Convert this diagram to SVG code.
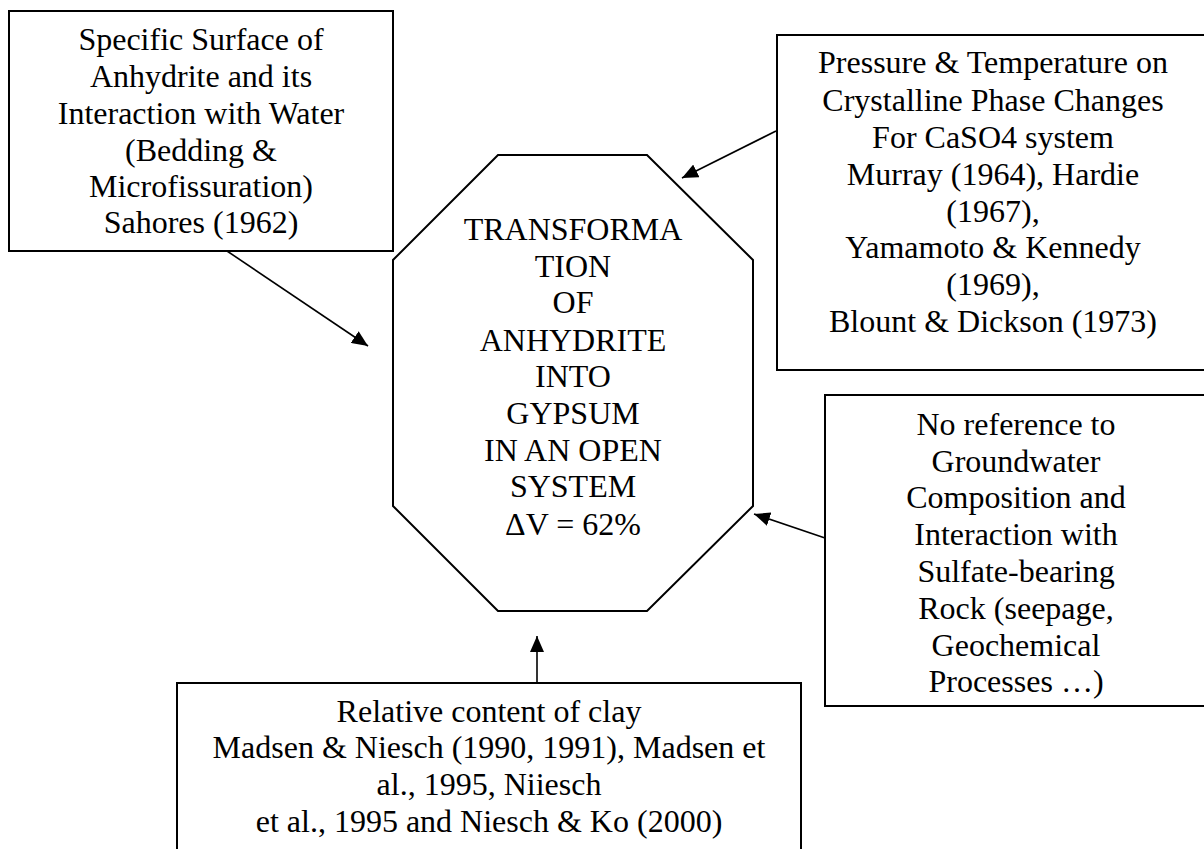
<svg xmlns="http://www.w3.org/2000/svg" width="1204" height="849" viewBox="0 0 1204 849">
<style>
.box{fill:#fff;stroke:#000;stroke-width:2}
.t{font-family:"Liberation Serif","Times New Roman",serif;font-size:32px;fill:#000;text-anchor:middle}
.c{stroke:#000;stroke-width:1.6;fill:none}
</style>
<defs>
<marker id="ah" markerUnits="userSpaceOnUse" markerWidth="18" markerHeight="14" refX="16" refY="7" orient="auto">
<path d="M0,0 L16,7 L0,14 Z" fill="#000"/>
</marker>
</defs>
<rect width="1204" height="849" fill="#fff"/>
<g id="node-specific-surface">
<rect class="box" x="9" y="11" width="384" height="240"/>
<text class="t" x="201" y="50">Specific Surface of</text>
<text class="t" x="201" y="87">Anhydrite and its</text>
<text class="t" x="201" y="124">Interaction with Water</text>
<text class="t" x="201" y="161">(Bedding &amp;</text>
<text class="t" x="201" y="197">Microfissuration)</text>
<text class="t" x="201" y="233">Sahores (1962)</text>
</g>
<g id="node-transformation">
<polygon class="box" points="498,155 647,155 753,260 753,506 647,611 498,611 393,506 393,260"/>
<text class="t" x="573" y="240">TRANSFORMA</text>
<text class="t" x="573" y="277">TION</text>
<text class="t" x="573" y="313">OF</text>
<text class="t" x="573" y="351">ANHYDRITE</text>
<text class="t" x="573" y="387">INTO</text>
<text class="t" x="573" y="424">GYPSUM</text>
<text class="t" x="573" y="461">IN AN OPEN</text>
<text class="t" x="573" y="497">SYSTEM</text>
<text class="t" x="573" y="535">ΔV = 62%</text>
</g>
<g id="node-pressure-temperature">
<rect class="box" x="777" y="35" width="434" height="335"/>
<text class="t" x="993" y="73">Pressure &amp; Temperature on</text>
<text class="t" x="993" y="111">Crystalline Phase Changes</text>
<text class="t" x="993" y="148">For CaSO4 system</text>
<text class="t" x="993" y="185">Murray (1964), Hardie</text>
<text class="t" x="993" y="222">(1967),</text>
<text class="t" x="993" y="258">Yamamoto &amp; Kennedy</text>
<text class="t" x="993" y="295">(1969),</text>
<text class="t" x="993" y="332">Blount &amp; Dickson (1973)</text>
</g>
<g id="node-groundwater">
<rect class="box" x="825" y="395" width="385" height="311"/>
<text class="t" x="1016" y="435">No reference to</text>
<text class="t" x="1016" y="472">Groundwater</text>
<text class="t" x="1016" y="508">Composition and</text>
<text class="t" x="1016" y="545">Interaction with</text>
<text class="t" x="1016" y="582">Sulfate-bearing</text>
<text class="t" x="1016" y="619">Rock (seepage,</text>
<text class="t" x="1016" y="656">Geochemical</text>
<text class="t" x="1016" y="692">Processes …)</text>
</g>
<g id="node-clay">
<rect class="box" x="177" y="683" width="624" height="180"/>
<text class="t" x="489" y="722">Relative content of clay</text>
<text class="t" x="489" y="758">Madsen &amp; Niesch (1990, 1991), Madsen et</text>
<text class="t" x="489" y="795">al., 1995, Niiesch</text>
<text class="t" x="489" y="832">et al., 1995 and Niesch &amp; Ko (2000)</text>
</g>
<g id="connectors">
<line class="c" x1="227" y1="251" x2="368" y2="346" marker-end="url(#ah)"/>
<line class="c" x1="776" y1="131" x2="682" y2="178" marker-end="url(#ah)"/>
<line class="c" x1="825" y1="538" x2="754" y2="514" marker-end="url(#ah)"/>
<line class="c" x1="537" y1="683" x2="537" y2="636" marker-end="url(#ah)"/>
</g>
</svg>
